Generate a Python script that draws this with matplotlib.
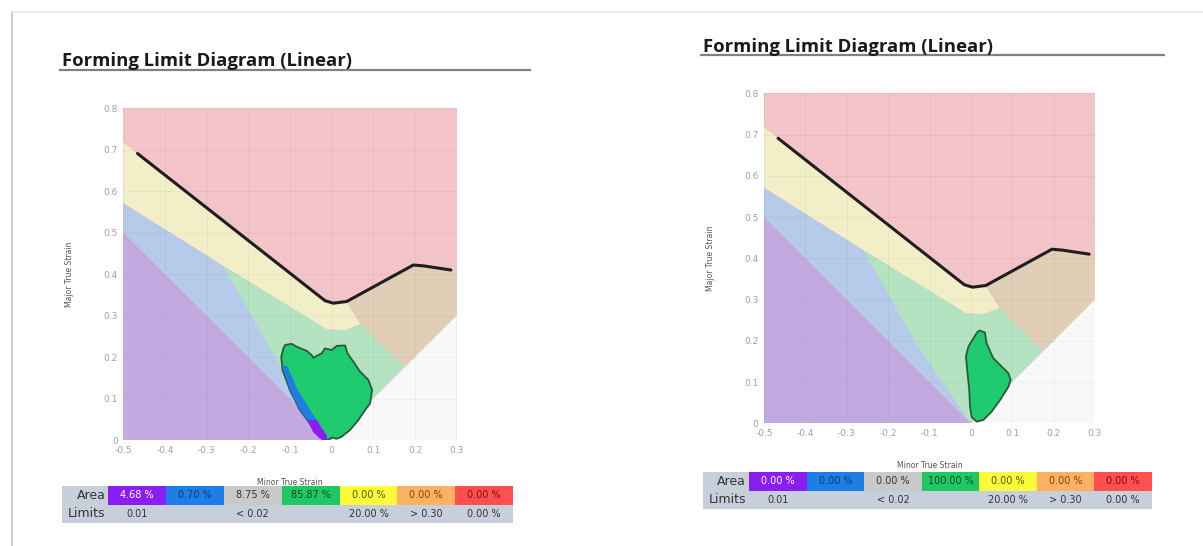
import matplotlib.pyplot as plt
from matplotlib.patches import Polygon, Rectangle
from matplotlib.lines import Line2D

plt.rcParams['axes.unicode_minus'] = False

W, H = 1203, 546

# --- data -------------------------------------------------------------
title = "Forming Limit Diagram (Linear)"

# forming limit curve (minor, major)
flc_x = [-0.466, -0.016, 0.004, 0.036, 0.196, 0.22, 0.286]
flc_y = [0.691, 0.336, 0.330, 0.334, 0.422, 0.420, 0.410]

# zone boundaries
flc_ext_x = [-0.5, -0.466, -0.016, 0.004, 0.037]
flc_ext_y = [0.718, 0.691, 0.336, 0.330, 0.331]
flc_right_x = [0.037, 0.196, 0.22, 0.3]
flc_right_y = [0.331, 0.422, 0.420, 0.409]
safety_x = [0.07, 0.05, 0.03, -0.012, -0.26, -0.5]
safety_y = [0.279, 0.272, 0.264, 0.267, 0.42, 0.571]
wrinkle_x = [-0.26, -0.13, 0.0]
wrinkle_y = [0.42, 0.19, 0.0]
plane_x = [0.07, 0.175, 0.3]
plane_y = [0.279, 0.176, 0.293]

# measured strain clouds
left_blob_x = [-0.112, -0.096, -0.084, -0.06, -0.048, -0.044, -0.036, -0.024, -0.016, 0.0,
               0.012, 0.032, 0.038, 0.052, 0.068, 0.088, 0.097, 0.092, 0.08, 0.064, 0.044,
               0.024, 0.012, 0.0, -0.008, -0.02, -0.04, -0.056, -0.076, -0.1, -0.118, -0.121, -0.116]
left_blob_y = [0.229, 0.232, 0.225, 0.215, 0.205, 0.198, 0.203, 0.209, 0.221, 0.217,
               0.227, 0.228, 0.209, 0.189, 0.165, 0.145, 0.121, 0.088, 0.072, 0.048, 0.024,
               0.008, 0.003, 0.006, 0.0, 0.0, 0.02, 0.045, 0.072, 0.12, 0.169, 0.2, 0.221]
left_blue_x = [-0.119, -0.1, -0.076, -0.056, -0.036, -0.06, -0.085, -0.106]
left_blue_y = [0.18, 0.12, 0.072, 0.045, 0.048, 0.085, 0.128, 0.178]
left_purple_x = [-0.058, -0.045, -0.03, -0.02, -0.01, -0.012, -0.025, -0.035]
left_purple_y = [0.048, 0.02, 0.005, 0.0, 0.0, 0.012, 0.03, 0.048]

right_blob_x = [0.022, 0.034, 0.038, 0.054, 0.075, 0.091, 0.096, 0.091, 0.071, 0.05, 0.03,
                0.014, 0.002, -0.002, -0.004, -0.008, -0.012, -0.006, 0.006, 0.016]
right_blob_y = [0.225, 0.22, 0.194, 0.158, 0.137, 0.121, 0.105, 0.089, 0.057, 0.028, 0.008,
                0.004, 0.015, 0.04, 0.081, 0.121, 0.162, 0.186, 0.206, 0.222]

# tables
cell_colors = ['#8a1ef2', '#1c7ee6', '#c9c9c9', '#1fc865', '#fbfb3c', '#ffb163', '#ff4f4f']
cell_text_colors = ['white', '#103a70', '#333333', '#0b4a25', '#555500', '#6a4a10', '#7a1010']
left_area = ['4.68 %', '0.70 %', '8.75 %', '85.87 %', '0.00 %', '0.00 %', '0.00 %']
right_area = ['0.00 %', '0.00 %', '0.00 %', '100.00 %', '0.00 %', '0.00 %', '0.00 %']
limits = ['0.01', '', '< 0.02', '', '20.00 %', '> 0.30', '0.00 %']

x_ticks = [-0.5, -0.4, -0.3, -0.2, -0.1, 0, 0.1, 0.2, 0.3]
x_tick_labels = ['-0.5', '-0.4', '-0.3', '-0.2', '-0.1', '0', '0.1', '0.2', '0.3']
y_ticks = [0, 0.1, 0.2, 0.3, 0.4, 0.5, 0.6, 0.7, 0.8]
y_tick_labels = ['0', '0.1', '0.2', '0.3', '0.4', '0.5', '0.6', '0.7', '0.8']

# zone colours
c_pink = '#f2c3c7'
c_yellow = '#f2eec7'
c_green = '#b3e3c0'
c_brown = '#e0ceb7'
c_blue = '#b6cbea'
c_purple = '#c3a9e0'
c_white = '#f8f8f8'


def px_box(x0, y0, x1, y1):
    return [x0 / W, 1 - y1 / H, (x1 - x0) / W, (y1 - y0) / H]


fig = plt.figure(figsize=(W / 100, H / 100), dpi=100)
fig.patch.set_facecolor('white')

# page frame
fig.add_artist(Line2D([12 / W, 12 / W], [0, 1 - 12 / H], color='#cfcfcf', lw=1.5))
fig.add_artist(Line2D([12 / W, 1], [1 - 12 / H, 1 - 12 / H], color='#e6e6e6', lw=1.2))


def draw_fld(box, blobs, title_xy, rule):
    ax = fig.add_axes(px_box(*box))
    ax.set_xlim(-0.5, 0.3)
    ax.set_ylim(0, 0.8)
    ax.add_patch(Rectangle((-0.5, 0), 0.8, 0.8, fc=c_pink, ec='none', zorder=0))
    yel = list(zip(flc_ext_x, flc_ext_y)) + list(zip(safety_x, safety_y))
    ax.add_patch(Polygon(yel, fc=c_yellow, ec='none', zorder=1))
    grn = list(zip(safety_x[:4], safety_y[:4])) + list(zip(wrinkle_x, wrinkle_y)) + [(0.175, 0.176)]
    ax.add_patch(Polygon(grn, fc=c_green, ec='none', zorder=1))
    brn = list(zip(flc_right_x, flc_right_y)) + list(zip(plane_x[::-1], plane_y[::-1]))
    ax.add_patch(Polygon(brn, fc=c_brown, ec='none', zorder=1))
    blu = [(-0.5, 0.571)] + list(zip(wrinkle_x, wrinkle_y)) + [(-0.5, 0.5)]
    ax.add_patch(Polygon(blu, fc=c_blue, ec='none', zorder=1))
    ax.add_patch(Polygon([(-0.5, 0.5), (0, 0), (-0.5, 0)], fc=c_purple, ec='none', zorder=1))
    ax.add_patch(Polygon([(0, 0), (0.3, 0.3), (0.3, 0)], fc=c_white, ec='none', zorder=1))

    ax.plot(flc_x, flc_y, color='#1e1e1e', lw=2.2, zorder=5, solid_capstyle='round')

    for bx, by, fc, edge in blobs:
        ax.add_patch(Polygon(list(zip(bx, by)), fc=fc, ec='#2a5a3a' if edge else 'none',
                             lw=1.3, zorder=4, joinstyle='round'))

    ax.set_xticks(x_ticks)
    ax.set_xticklabels(x_tick_labels)
    ax.set_yticks(y_ticks)
    ax.set_yticklabels(y_tick_labels)
    ax.tick_params(length=0, labelsize=6.5, labelcolor='#a0a0a0', pad=4)
    ax.grid(True, color='black', alpha=0.035, lw=0.8)
    ax.set_axisbelow(False)
    for sp in ax.spines.values():
        sp.set_visible(False)
    ax.set_xlabel('Minor True Strain', fontsize=5.5, color='#555555', labelpad=17)
    ax.set_ylabel('Major True Strain', fontsize=5.5, color='#555555', labelpad=21)

    fig.text(title_xy[0] / W, 1 - title_xy[1] / H, title, fontsize=13.3, fontweight='bold',
             color='#1a1a1a', ha='left', va='baseline', family='Open Sans')
    fig.add_artist(Line2D([rule[0] / W, rule[1] / W], [1 - rule[2] / H] * 2, color='#808080', lw=1.6))
    return ax


def draw_table(box, area):
    ax = fig.add_axes(px_box(*box))
    lab_w = 0.8
    ax.set_xlim(0, lab_w + 7)
    ax.set_ylim(0, 2)
    ax.axis('off')
    ax.add_patch(Rectangle((0, 0), lab_w + 7, 2, fc='#c7cfdb', ec='none'))
    ax.text(lab_w - 0.05, 1.5, 'Area', ha='right', va='center', fontsize=9, color='#333333')
    ax.text(lab_w - 0.05, 0.5, 'Limits', ha='right', va='center', fontsize=9, color='#333333')
    for i, (txt, lim) in enumerate(zip(area, limits)):
        ax.add_patch(Rectangle((lab_w + i, 1), 1, 1, fc=cell_colors[i], ec='none'))
        ax.text(lab_w + i + 0.5, 1.5, txt, ha='center', va='center', fontsize=7,
                color=cell_text_colors[i])
        ax.text(lab_w + i + 0.5, 0.5, lim, ha='center', va='center', fontsize=7, color='#333333')
    return ax


draw_fld((123.3, 108.3, 456.7, 440),
         [(left_blob_x, left_blob_y, '#1ecb6e', True),
          (left_blue_x, left_blue_y, '#1f7be6', False),
          (left_purple_x, left_purple_y, '#8a1ef2', False)],
         (62, 66), (60, 530, 70))
draw_fld((764, 93.3, 1095, 423.3),
         [(right_blob_x, right_blob_y, '#1ecb6e', True)],
         (703, 52), (701, 1164, 55))

draw_table((62, 486, 513, 523), left_area)
draw_table((703, 472, 1152, 509), right_area)

fig.savefig('out.png', dpi=100)
